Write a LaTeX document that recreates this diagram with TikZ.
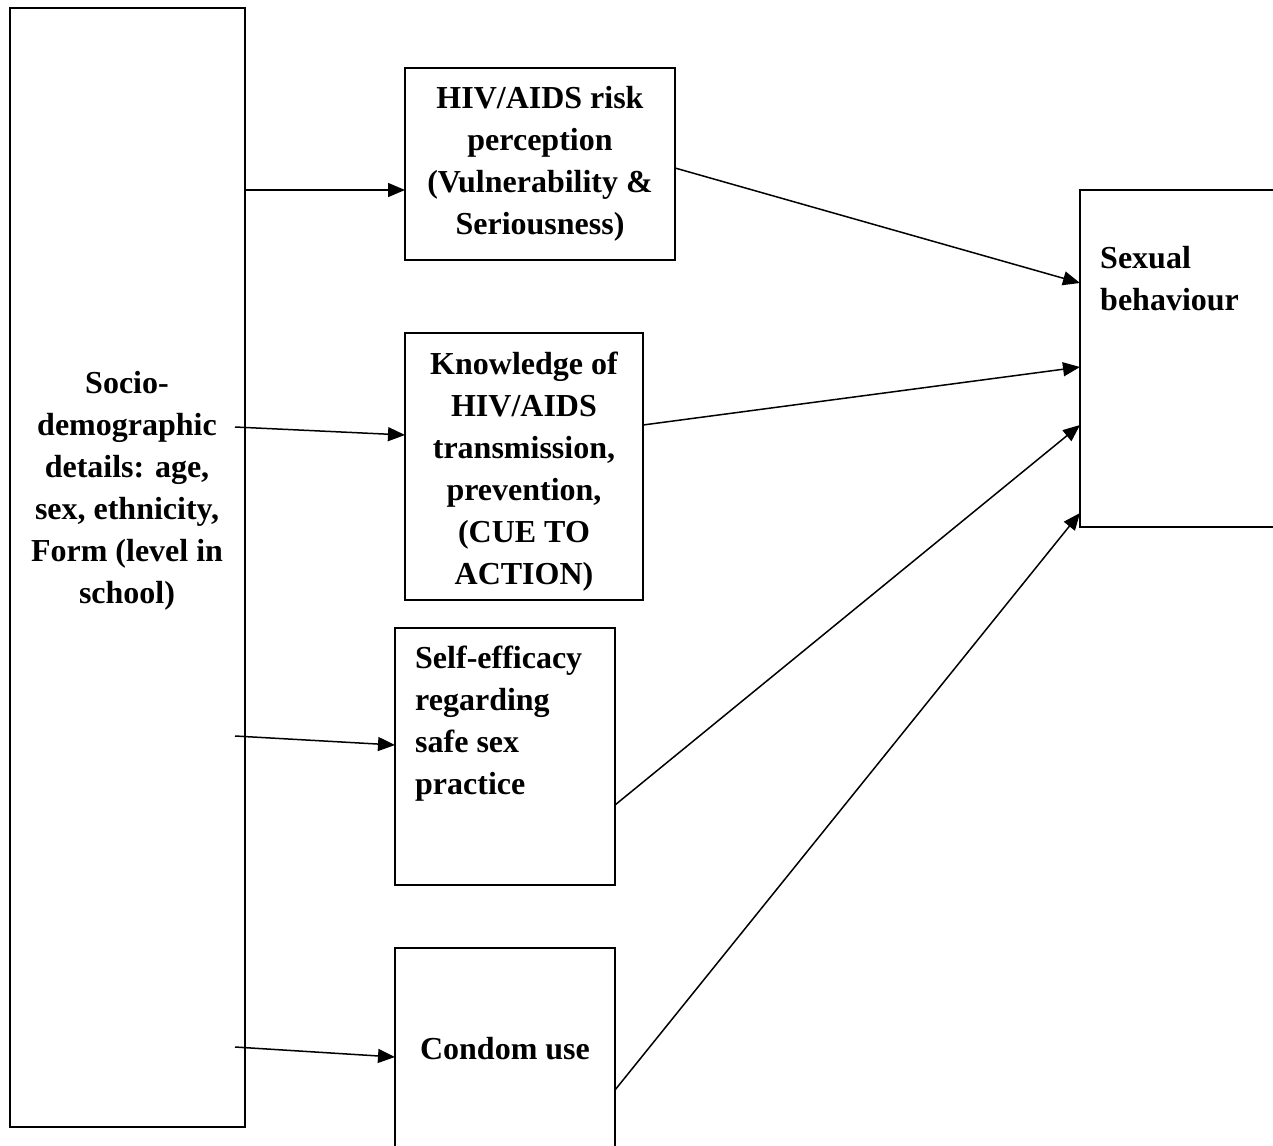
\documentclass[tikz,border=0pt]{standalone}
\usepackage{fontspec}
\setmainfont{Liberation Serif}
\usetikzlibrary{calc,arrows.meta}

\begin{document}
\begin{tikzpicture}[x=1pt,y=-1pt,>={Triangle[length=17pt,width=14pt]}]
  \tikzstyle{box}=[draw, rectangle, line width=1.2pt, inner sep=0pt, outer sep=0pt]
  \tikzstyle{txt}=[inner sep=0pt, font=\fontsize{32}{42}\selectfont\bfseries]
  \tikzstyle{arr}=[->, line width=1.5pt]
  \useasboundingbox (0,0) rectangle (1273,1145);
  \clip (0,0) rectangle (1273,1145);

  \node[box, minimum width=235pt, minimum height=1119pt] (socio) at (127.5,567.5) {};
  \node[box, line width=2.4pt, minimum width=270pt, minimum height=192pt] (hiv) at (540,164) {};
  \node[box, minimum width=238pt, minimum height=267pt] (know) at (524,466.5) {};
  \node[box, minimum width=220pt, minimum height=257pt] (self) at (505,756.5) {};
  \node[box, minimum width=220pt, minimum height=212pt] (condom) at (505,1054) {};
  \node[box, minimum width=220pt, minimum height=337pt] (sexual) at (1190,358.5) {};

  \node[txt, align=center] (sociotxt) at (127,491) {Socio-\\demographic\\details: age,\\sex, ethnicity,\\Form (level in\\school)};
  \node[txt, align=center] (hivtxt) at (540,164) {HIV/AIDS risk\\perception\\(Vulnerability \&\\Seriousness)};
  \node[txt, align=center] (knowtxt) at (524,472) {Knowledge of\\HIV/AIDS\\transmission,\\prevention,\\(CUE TO\\ACTION)};
  \node[txt, align=left, anchor=west] (selftxt) at (415,724) {Self-efficacy\\regarding\\safe sex\\practice};
  \node[txt] (condomtxt) at (505,1049) {Condom use};
  \node[txt, align=left, anchor=west] (sexualtxt) at (1100,279) {Sexual\\behaviour};

  \draw[arr] ($(socio.north east)+(0,182)$) -- ($(hiv.north west)+(0,122)$);
  \draw[arr] ($(socio.north east)+(-10,419)$) -- ($(know.north west)+(0,102)$);
  \draw[arr] ($(socio.north east)+(-10,728)$) -- ($(self.north west)+(0,117)$);
  \draw[arr] ($(socio.north east)+(-10,1039)$) -- ($(condom.north west)+(0,109)$);

  \draw[arr] ($(hiv.north east)+(0,100)$) -- ($(sexual.north west)+(0,93)$);
  \draw[arr] ($(know.north east)+(0,92)$) -- ($(sexual.north west)+(0,177)$);
  \draw[arr] ($(self.north east)+(0,177)$) -- ($(sexual.north west)+(0,235)$);
  \draw[arr] ($(condom.north east)+(0,142)$) -- ($(sexual.north west)+(0,323)$);
\end{tikzpicture}
\end{document}
